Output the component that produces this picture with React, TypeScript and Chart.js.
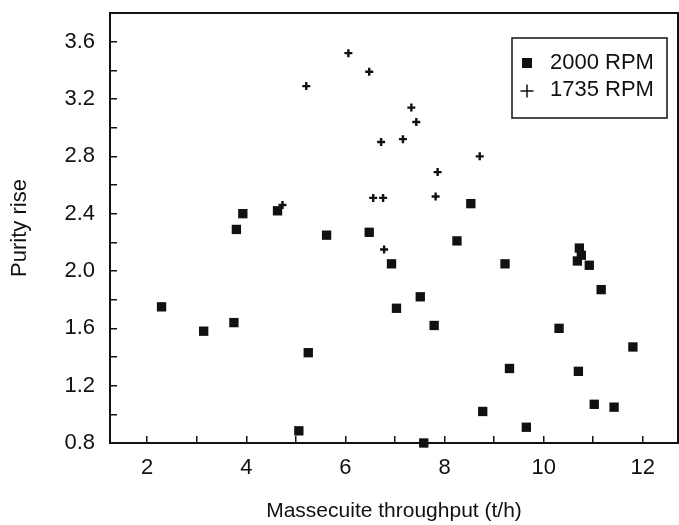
import React, { useEffect, useRef } from 'react';
import { Chart, registerables } from 'chart.js';

Chart.register(...registerables);

// 2000 RPM series (squares)
const RPM2000_X = [2.29, 3.14, 3.75, 3.80, 3.93, 4.63, 5.06, 5.25, 5.62, 6.48, 6.93, 7.03, 7.51, 7.58, 7.79, 8.25, 8.53, 8.77, 9.22, 9.31, 9.65, 10.31, 10.68, 10.70, 10.72, 10.76, 10.92, 11.02, 11.16, 11.42, 11.80];
const RPM2000_Y = [1.75, 1.58, 1.64, 2.29, 2.40, 2.42, 0.885, 1.43, 2.25, 2.27, 2.05, 1.74, 1.82, 0.80, 1.62, 2.21, 2.47, 1.02, 2.05, 1.32, 0.91, 1.60, 2.07, 1.30, 2.16, 2.11, 2.04, 1.07, 1.87, 1.05, 1.47];
// 1735 RPM series (crosses)
const RPM1735_X = [4.73, 5.21, 6.06, 6.48, 6.56, 6.72, 6.76, 6.78, 7.16, 7.33, 7.43, 7.82, 7.86, 8.71];
const RPM1735_Y = [2.46, 3.29, 3.52, 3.39, 2.51, 2.90, 2.51, 2.15, 2.92, 3.14, 3.04, 2.52, 2.69, 2.80];

const SERIES_LABELS = ['2000 RPM', '1735 RPM'];
const X_TITLE = 'Massecuite throughput (t/h)';
const Y_TITLE = 'Purity rise';
const X_LABEL_STEP = 2;
const Y_LABEL_STEP = 0.4;

const INK = '#111';
const FONT = "'Liberation Sans', Arial, Helvetica, sans-serif";

const framePlugin = {
  id: 'frameAndLegend',
  afterDraw(chart: any) {
    const { ctx, chartArea } = chart;
    ctx.save();
    ctx.strokeStyle = INK;
    ctx.lineWidth = 2;
    ctx.strokeRect(chartArea.left, chartArea.top, chartArea.right - chartArea.left, chartArea.bottom - chartArea.top);

    // legend box
    const bw = 155, bh = 80;
    const bx = chartArea.right - 166;
    const by = chartArea.top + 25;
    ctx.fillStyle = '#fff';
    ctx.fillRect(bx, by, bw, bh);
    ctx.lineWidth = 1.5;
    ctx.strokeRect(bx, by, bw, bh);
    ctx.font = `22px ${FONT}`;
    ctx.textBaseline = 'middle';
    ctx.textAlign = 'left';
    chart.data.datasets.forEach((ds: any, i: number) => {
      const cy = by + 25 + i * 27;
      const mx = bx + 15;
      ctx.fillStyle = INK;
      ctx.strokeStyle = INK;
      if (ds.pointStyle === 'rect') {
        ctx.fillRect(mx - 5, cy - 5, 10, 10);
      } else {
        ctx.lineWidth = 1.5;
        ctx.beginPath();
        ctx.moveTo(mx - 6.5, cy + 1);
        ctx.lineTo(mx + 6.5, cy + 1);
        ctx.moveTo(mx, cy - 5.5);
        ctx.lineTo(mx, cy + 7.5);
        ctx.stroke();
      }
      ctx.fillText(ds.label, bx + 38, cy);
    });
    ctx.restore();
  },
};

export default function App() {
  const ref = useRef<HTMLCanvasElement | null>(null);

  useEffect(() => {
    if (!ref.current) return;
    const chart = new Chart(ref.current, {
      type: 'scatter',
      data: {
        datasets: [
          {
            label: SERIES_LABELS[0],
            data: RPM2000_X.map((x, i) => ({ x, y: RPM2000_Y[i] })),
            pointStyle: 'rect',
            pointRadius: 6.6,
            pointHoverRadius: 6.6,
            backgroundColor: INK,
            borderColor: INK,
            borderWidth: 0,
            clip: false,
          } as any,
          {
            label: SERIES_LABELS[1],
            data: RPM1735_X.map((x, i) => ({ x, y: RPM1735_Y[i] })),
            pointStyle: 'cross',
            pointRadius: 4,
            pointHoverRadius: 4,
            borderColor: INK,
            backgroundColor: INK,
            borderWidth: 2.4,
            clip: false,
          } as any,
        ],
      },
      options: {
        responsive: false,
        animation: false,
        layout: { autoPadding: false, padding: { top: 13, right: 1, left: 0, bottom: 0 } },
        plugins: {
          legend: { display: false },
          tooltip: { enabled: false },
        },
        scales: {
          x: {
            type: 'linear',
            position: 'bottom',
            min: 1.25,
            max: 12.71,
            afterFit: (s: any) => {
              s.height = 82;
              s.paddingLeft = 0;
              s.paddingRight = 0;
            },
            border: { display: false },
            grid: {
              drawOnChartArea: false,
              drawTicks: true,
              tickLength: -7,
              color: INK,
              lineWidth: 1.5,
            },
            ticks: {
              stepSize: 1,
              includeBounds: false,
              autoSkip: false,
              maxRotation: 0,
              padding: 19,
              color: INK,
              font: { family: FONT, size: 22 },
              callback: (v: any) => {
                const n = Number(v);
                return Math.abs(n / X_LABEL_STEP - Math.round(n / X_LABEL_STEP)) < 1e-6 ? String(Math.round(n)) : '';
              },
            },
            title: {
              display: true,
              text: X_TITLE,
              color: INK,
              font: { family: FONT, size: 21 },
              padding: { top: 0, bottom: 1 },
            },
          },
          y: {
            type: 'linear',
            position: 'left',
            min: 0.8,
            max: 3.8,
            afterFit: (s: any) => {
              s.width = 110;
              s.paddingTop = 0;
              s.paddingBottom = 0;
            },
            border: { display: false },
            grid: {
              drawOnChartArea: false,
              drawTicks: true,
              tickLength: -7,
              color: INK,
              lineWidth: 1.5,
            },
            ticks: {
              stepSize: 0.2,
              includeBounds: false,
              autoSkip: false,
              padding: 22,
              color: INK,
              font: { family: FONT, size: 22 },
              callback: (v: any) => {
                const n = Number(v);
                const k = n / Y_LABEL_STEP;
                return Math.abs(k - Math.round(k)) < 1e-6 && n < 3.75 ? n.toFixed(1) : '';
              },
            },
            title: {
              display: true,
              text: Y_TITLE,
              color: INK,
              font: { family: FONT, size: 22 },
              padding: { top: 7, bottom: 0 },
            },
          },
        },
      },
      plugins: [framePlugin],
    });
    return () => chart.destroy();
  }, []);

  return (
    <div style={{ position: 'fixed', left: 0, top: 0, width: 679, height: 525, background: '#fff' }}>
      <canvas ref={ref} width={679} height={525} style={{ display: 'block', width: 679, height: 525 }} />
    </div>
  );
}
